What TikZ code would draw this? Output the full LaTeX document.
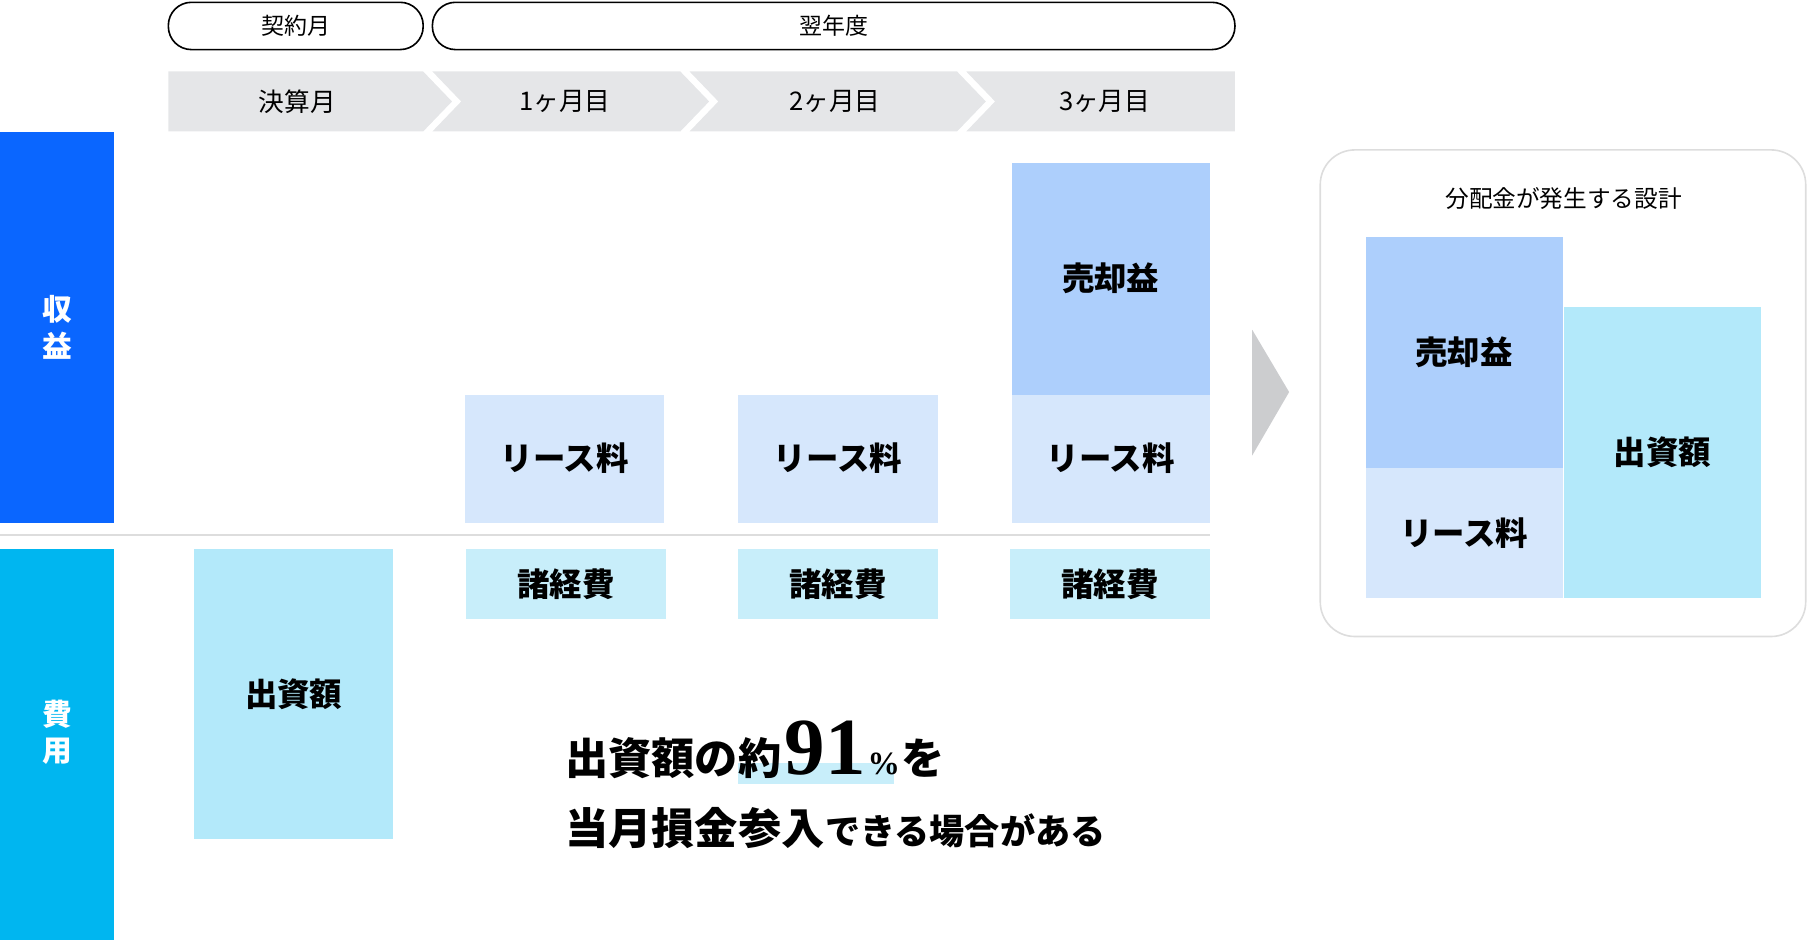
\documentclass[tikz,border=0pt]{standalone}
\usepackage{fontspec}
\setmainfont{Noto Sans CJK JP}
\newfontfamily\numfont{Liberation Serif}
\usetikzlibrary{positioning}

% Colours
\definecolor{revblue}{HTML}{0A66FF}
\definecolor{costblue}{HTML}{00B6F0}
\definecolor{leaseblue}{HTML}{D6E7FC}
\definecolor{saleblue}{HTML}{ADCFFC}
\definecolor{investcyan}{HTML}{B3E9FA}
\definecolor{expcyan}{HTML}{C8EEFA}
\definecolor{chevgray}{HTML}{E5E6E8}
\definecolor{arrowgray}{HTML}{CCCDCF}
\definecolor{linegray}{HTML}{DDDDDD}

\tikzset{
  pill/.style={draw, line width=1.2pt, rounded corners=6mm, minimum height=12.3mm,
    inner sep=0pt, font=\fontsize{17}{17}\selectfont},
  monthlabel/.style={font=\fontsize{19}{19}\selectfont, inner sep=0pt},
  bar/.style={anchor=north west, minimum width=29.7mm, inner sep=0pt},
  bartext/.style={inner sep=0pt, text=white, align=center,
    font=\bfseries\fontsize{22}{27}\selectfont},
  box/.style={anchor=north west, inner sep=0pt, font=\bfseries\fontsize{24}{24}\selectfont},
  lease/.style={box, fill=leaseblue},
  sale/.style={box, fill=saleblue},
  invest/.style={box, fill=investcyan},
  expense/.style={box, fill=expcyan},
  bigtext/.style={inner sep=0pt, font=\bfseries\fontsize{32}{32}\selectfont},
  midtext/.style={inner sep=0pt, font=\bfseries\fontsize{26}{26}\selectfont},
}

\begin{document}
\begin{tikzpicture}[x=0.3mm, y=-0.3mm]

\useasboundingbox (0,0) rectangle (1568,815.2);

% Period headers
\node[pill, minimum width=221*0.3mm] (contract) at (256.5,22.5) {契約月};
\node[pill, minimum width=696*0.3mm] (nextyear) at (723,22.5) {翌年度};

% Month chevrons
\fill[chevgray] (146,62) -- (367,62) -- (392,88) -- (367,114) -- (146,114) -- cycle;
\fill[chevgray] (375,62) -- (590,62) -- (615,88) -- (590,114) -- (375,114) -- (400,88) -- cycle;
\fill[chevgray] (598,62) -- (830,62) -- (855,88) -- (830,114) -- (598,114) -- (623,88) -- cycle;
\fill[chevgray] (838,62) -- (1071,62) -- (1071,114) -- (838,114) -- (863,88) -- cycle;

\node[monthlabel] (m0) at (258,88) {決算月};
\node[monthlabel] (m1) at (490,88) {1ヶ月目};
\node[monthlabel] (m2) at (724,88) {2ヶ月目};
\node[monthlabel] (m3) at (958,88) {3ヶ月目};

% Side bars
\node[bar, fill=revblue, minimum height=339*0.3mm] (revenue) at (0,114) {};
\node[bartext] (revlabel) at (revenue.center) {収\\益};
\node[bar, fill=costblue, minimum height=340*0.3mm] (cost) at (0,476) {};
\node[bartext, yshift=3.3mm] (costlabel) at (cost.center) {費\\用};

% Separator
\draw[linegray, line width=1.2pt] (0,464) -- (1049,464);

% Revenue side
\node[lease, minimum width=173*0.3mm, minimum height=111*0.3mm] (lease1) at (403,342) {リース料};
\node[lease, minimum width=173*0.3mm, minimum height=111*0.3mm] (lease2) at (640,342) {リース料};
\node[lease, minimum width=172*0.3mm, minimum height=111*0.3mm] (lease3) at (877,342) {リース料};
\node[sale, minimum width=172*0.3mm, minimum height=201*0.3mm] (sale3) at (877,141) {売却益};

% Cost side
\node[invest, minimum width=173*0.3mm, minimum height=251*0.3mm] (invest0) at (168,476) {出資額};
\node[expense, minimum width=173*0.3mm, minimum height=61*0.3mm] (exp1) at (404,476) {諸経費};
\node[expense, minimum width=173*0.3mm, minimum height=61*0.3mm] (exp2) at (640,476) {諸経費};
\node[expense, minimum width=173*0.3mm, minimum height=61*0.3mm] (exp3) at (876,476) {諸経費};

% Arrow to summary
\fill[arrowgray] (1086,286) -- (1118,340) -- (1086,395) -- cycle;

% Summary panel
\draw[linegray, line width=1.2pt, rounded corners=9mm] (1145,130) rectangle (1566,552);
\node[font=\fontsize{17.5}{17.5}\selectfont, inner sep=0pt] (design) at (1356,172) {分配金が発生する設計};
\node[sale, minimum width=171*0.3mm, minimum height=201*0.3mm] (sumsale) at (1184,205) {売却益};
\node[lease, minimum width=171*0.3mm, minimum height=112*0.3mm] (sumlease) at (1184,406) {リース料};
\node[invest, minimum width=171*0.3mm, minimum height=252*0.3mm] (suminvest) at (1356,266) {出資額};

% Message
\fill[expcyan] (640,662) rectangle (775,680);
\node[bigtext, anchor=base west] (msg1) at (490,672) {出資額の約};
\node[inner sep=0pt, font=\numfont\bfseries\fontsize{60}{60}\selectfont, base right=2pt of msg1] (rate) {91};
\node[inner sep=0pt, font=\numfont\bfseries\fontsize{24}{24}\selectfont, base right=1pt of rate] (pct) {\%};
\node[bigtext, base right=1pt of pct] (wo) {を};
\node[bigtext, anchor=base west] (msg2) at (490,732) {当月損金参入};
\node[midtext, base right=0pt of msg2] (msg2b) {できる場合がある};

\end{tikzpicture}
\end{document}
